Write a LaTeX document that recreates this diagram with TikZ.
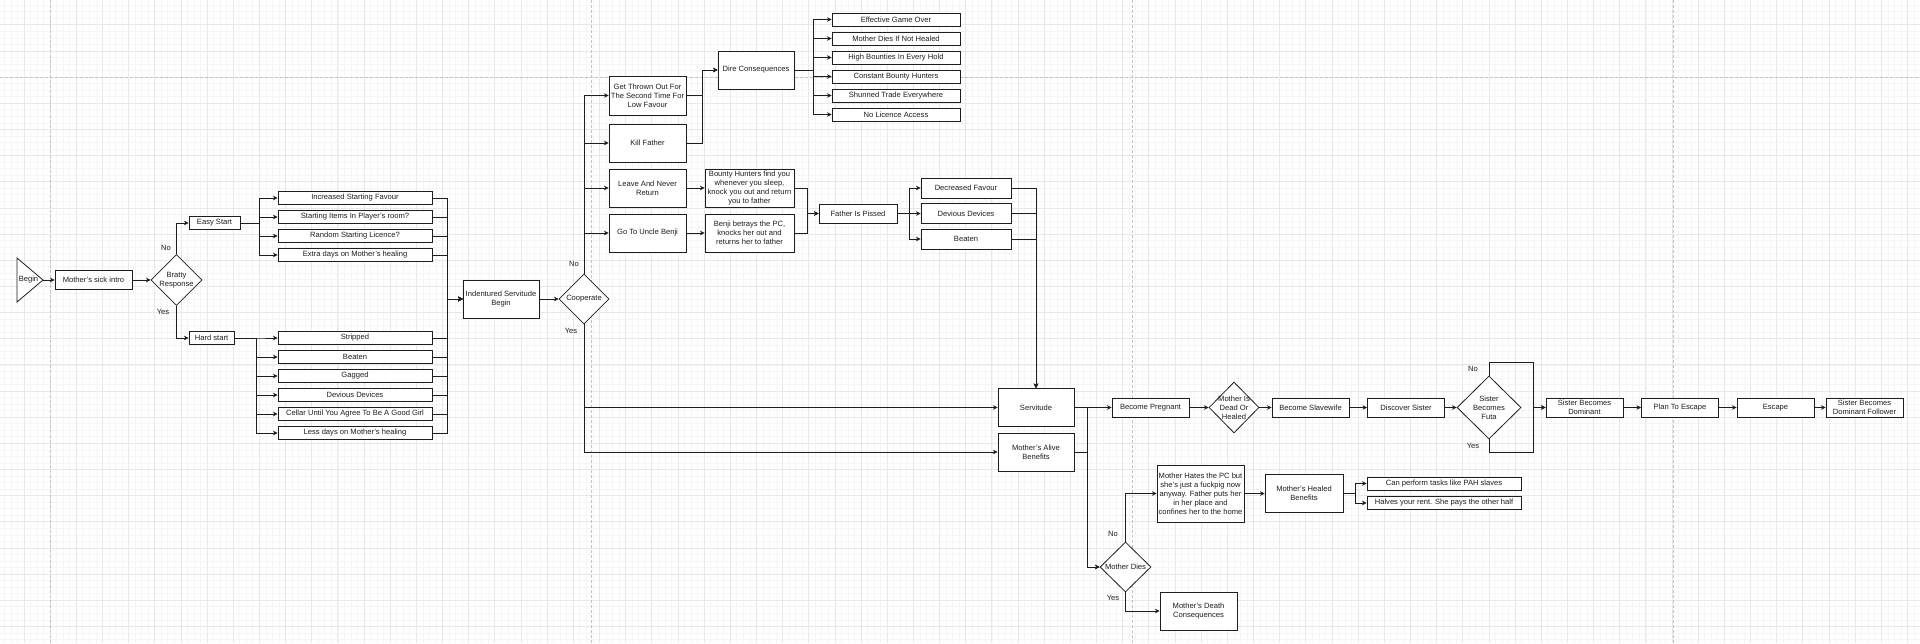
\documentclass[tikz,border=0pt]{standalone}
\usepackage{fontspec}
\setmainfont{Liberation Sans}
\usetikzlibrary{arrows.meta,shapes.geometric}
\definecolor{gminor}{HTML}{F5F5F5}
\definecolor{gmajor}{HTML}{E8E8E8}
\definecolor{pagebrk}{HTML}{C4C4C4}
\definecolor{ink}{HTML}{1E1E1E}
\begin{document}
\begin{tikzpicture}[x=1pt,y=-1pt,
  every node/.style={font=\fontsize{7.6}{9}\selectfont, text=ink},
  box/.style={draw=ink, line width=0.8pt, fill=white, inner sep=0pt, align=center},
  sbox/.style={box, minimum width=77, minimum height=19},
  mbox/.style={box, minimum width=77, minimum height=38},
  obox/.style={box, minimum width=154, minimum height=12.5},
  dbox/.style={box, minimum width=128, minimum height=13},
  fbox/.style={box, minimum width=90, minimum height=20},
  dia/.style={diamond, draw=ink, line width=0.8pt, fill=white, inner sep=0pt, aspect=1},
  arr/.style={draw=ink, line width=0.8pt, -{Stealth[length=4.5pt,width=4.5pt,inset=1.2pt]}},
  lbl/.style={inner sep=0pt},
  gridminor/.style={draw=gminor, line width=0.5pt},
  gridmajor/.style={draw=gmajor, line width=0.6pt},
  pageline/.style={draw=pagebrk, line width=0.6pt, dash pattern=on 2.5pt off 2.5pt}
]
\useasboundingbox (0,0) rectangle (1920,643);
\fill[white] (0,0) rectangle (1920,643);
% background grid
\foreach \k in {-7,...,286} \draw[gridminor] ({50+\k*6.54},0) -- ({50+\k*6.54},643);
\foreach \k in {-11,...,86} \draw[gridminor] (0,{77+\k*6.54}) -- (1920,{77+\k*6.54});
\foreach \k in {-1,...,71} \draw[gridmajor] ({50+\k*26.16},0) -- ({50+\k*26.16},643);
\foreach \k in {-2,...,21} \draw[gridmajor] (0,{77+\k*26.16}) -- (1920,{77+\k*26.16});
\foreach \xx in {50,591,1132,1673} \draw[pageline] (\xx,0) -- (\xx,643);
\draw[pageline] (0,77) -- (1920,77);

% ---------- start ----------
\draw[draw=ink, line width=0.8pt, fill=white] (17,258) -- (43,280) -- (17,302) -- cycle;
\node[lbl] (begin) at (28.5,280) {Begin};
\coordinate (begintip) at (43,280);
\node[sbox] (intro) at (93.5,280) {Mother's sick intro};
\node[dia, minimum width=51, minimum height=51, label={[align=center]center:Bratty\\Response}] (bratty) at (176.5,280) {};
\node[box, minimum width=51, minimum height=12.5] (easy) at (214.5,223) {Easy Start};
\node[box, minimum width=45, minimum height=12.5] (hard) at (211.5,338) {Hard start};
\node[lbl] (bno) at (166,248) {No};
\node[lbl] (byes) at (163,312) {Yes};

\node[obox] (o1) at (355,198) {Increased Starting Favour};
\node[obox] (o2) at (355,217) {Starting Items In Player's room?};
\node[obox] (o3) at (355,236) {Random Starting Licence?};
\node[obox] (o4) at (355,255) {Extra days on Mother's healing};
\node[obox] (h1) at (355,338) {Stripped};
\node[obox] (h2) at (355,357) {Beaten};
\node[obox] (h3) at (355,376) {Gagged};
\node[obox] (h4) at (355,395) {Devious Devices};
\node[obox] (h5) at (355,414) {Cellar Until You Agree To Be A Good Girl};
\node[obox] (h6) at (355,433) {Less days on Mother's healing};

\node[box, minimum width=76, minimum height=38] (ind) at (501,299) {Indentured Servitude\\Begin};
\node[dia, minimum width=50, minimum height=50, label={center:Cooperate}] (coop) at (584,299) {};
\node[lbl] (cno) at (574,264) {No};
\node[lbl] (cyes) at (571,331) {Yes};

% ---------- no cooperate ----------
\node[box, minimum width=77, minimum height=39] (thrown) at (647.5,95.5) {Get Thrown Out For\\The Second Time For\\Low Favour};
\node[mbox] (kill) at (647.5,143) {Kill Father};
\node[mbox] (leave) at (647.5,188) {Leave And Never\\Return};
\node[mbox] (uncle) at (647.5,233) {Go To Uncle Benji};
\node[box, minimum width=76, minimum height=38] (dire) at (756,70) {Dire Consequences};
\node[dbox] (d1) at (896,19.5) {Effective Game Over};
\node[dbox] (d2) at (896,38.5) {Mother Dies If Not Healed};
\node[dbox] (d3) at (896,57.5) {High Bounties In Every Hold};
\node[dbox] (d4) at (896,76.5) {Constant Bounty Hunters};
\node[dbox] (d5) at (896,95.5) {Shunned Trade Everywhere};
\node[dbox] (d6) at (896,114.5) {No Licence Access};
\node[box, minimum width=89, minimum height=38] (bounty) at (749.5,188) {Bounty Hunters find you\\whenever you sleep,\\knock you out and return\\you to father};
\node[box, minimum width=89, minimum height=38] (betray) at (749.5,233) {Benji betrays the PC,\\knocks her out and\\returns her to father};
\node[box, minimum width=78, minimum height=19] (father) at (858,213.5) {Father Is Pissed};
\node[fbox] (f1) at (966,188) {Decreased Favour};
\node[fbox] (f2) at (966,213.5) {Devious Devices};
\node[fbox] (f3) at (966,239) {Beaten};

% ---------- servitude ----------
\node[box, minimum width=76, minimum height=38] (serv) at (1036,407.5) {Servitude};
\node[box, minimum width=76, minimum height=38] (alive) at (1036,452) {Mother's Alive\\Benefits};
\node[sbox] (preg) at (1150.5,407.5) {Become Pregnant};
\node[dia, minimum width=50, minimum height=51, label={[align=center]center:Mother Is\\Dead Or\\Healed}] (deadq) at (1234,407.5) {};
\node[sbox] (slave) at (1310.5,407.5) {Become Slavewife};
\node[sbox] (disc) at (1406,407.5) {Discover Sister};
\node[dia, minimum width=64, minimum height=63, label={[align=center]center:Sister\\Becomes\\Futa}] (sis) at (1489,407.5) {};
\node[lbl] (sno) at (1473,369) {No};
\node[lbl] (syes) at (1473,446) {Yes};
\node[sbox] (sdom) at (1584.5,407.5) {Sister Becomes\\Dominant};
\node[sbox] (plan) at (1680,407.5) {Plan To Escape};
\node[sbox] (esc) at (1775.5,407.5) {Escape};
\node[sbox] (foll) at (1864.5,407.5) {Sister Becomes\\Dominant Follower};

\node[dia, minimum width=51, minimum height=50, label={center:Mother Dies}] (mdies) at (1125.5,567) {};
\node[lbl] (mno) at (1113,534) {No};
\node[lbl] (myes) at (1113,598) {Yes};
\node[box, minimum width=87, minimum height=57] (hates) at (1200.5,493.5) {Mother Hates the PC but\\she's just a fuckpig now\\anyway. Father puts her\\in her place and\\confines her to the home};
\node[box, minimum width=78, minimum height=38] (healed) at (1304,493.5) {Mother's Healed\\Benefits};
\node[obox, minimum height=13] (c1) at (1444,483.5) {Can perform tasks like PAH slaves};
\node[obox, minimum height=13] (c2) at (1444,503) {Halves your rent. She pays the other half};
\node[mbox] (death) at (1198.5,611) {Mother's Death\\Consequences};

% ---------- connectors ----------
\draw[arr] (begintip) -- (intro.west);
\draw[arr] (intro.east) -- (bratty.west);
\draw[arr] (bratty.north) |- (easy.west);
\draw[arr] (bratty.south) |- (hard.west);
\foreach \t in {o1,o2,o3,o4} \draw[arr] (easy.east) -- ++(19,0) |- (\t.west);
\foreach \t in {h1,h2,h3,h4,h5,h6} \draw[arr] (hard.east) -- ++(22,0) |- (\t.west);
\foreach \s in {o1,o2,o3,o4,h1,h2,h3,h4,h5,h6} \draw[arr] (\s.east) -- ++(15,0) |- (ind.west);
\draw[arr] (ind.east) -- (coop.west);
\foreach \t in {thrown,kill,leave,uncle} \draw[arr] (coop.north) |- (\t.west);
\draw[arr] (coop.south) |- (serv.west);
\draw[arr] (coop.south) |- (alive.west);
\draw[arr] (thrown.east) -- ++(16,0) |- (dire.west);
\draw[arr] (kill.east) -- ++(16,0) |- (dire.west);
\foreach \t in {d1,d2,d3,d4,d5,d6} \draw[arr] (dire.east) -- ++(19,0) |- (\t.west);
\draw[arr] (leave.east) -- (bounty.west);
\draw[arr] (uncle.east) -- (betray.west);
\draw[arr] (bounty.east) -- ++(13,0) |- (father.west);
\draw[arr] (betray.east) -- ++(13,0) |- (father.west);
\foreach \t in {f1,f2,f3} \draw[arr] (father.east) -- ++(12,0) |- (\t.west);
\foreach \s in {f1,f2,f3} \draw[arr] (\s.east) -| (serv.north);
\draw[arr] (serv.east) -- (preg.west);
\draw[arr] (serv.east) -- ++(13,0) |- (mdies.west);
\draw[arr] (alive.east) -- ++(13,0) |- (mdies.west);
\draw[arr] (preg.east) -- (deadq.west);
\draw[arr] (deadq.east) -- (slave.west);
\draw[arr] (slave.east) -- (disc.west);
\draw[arr] (disc.east) -- (sis.west);
\draw[arr] (sis.north) -- ++(0,-13) -- ++(44,0) |- (sdom.west);
\draw[arr] (sis.south) -- ++(0,13) -- ++(44,0) |- (sdom.west);
\draw[arr] (sdom.east) -- (plan.west);
\draw[arr] (plan.east) -- (esc.west);
\draw[arr] (esc.east) -- (foll.west);
\draw[arr] (mdies.north) |- (hates.west);
\draw[arr] (mdies.south) |- (death.west);
\draw[arr] (hates.east) -- (healed.west);
\draw[arr] (healed.east) -- ++(12,0) |- (c1.west);
\draw[arr] (healed.east) -- ++(12,0) |- (c2.west);
\end{tikzpicture}
\end{document}
